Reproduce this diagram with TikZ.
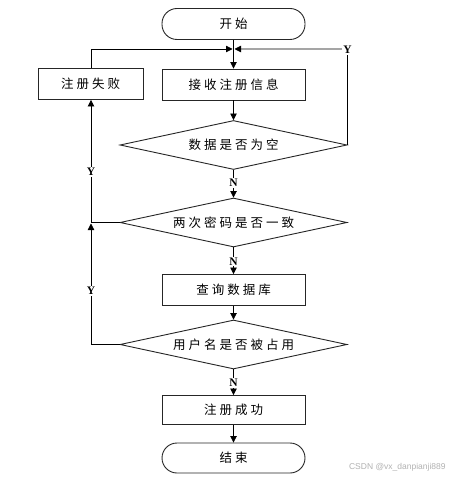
\documentclass[tikz,border=0pt]{standalone}
\usepackage{fontspec}
\setmainfont{Liberation Serif}
\newfontfamily\cjk[LetterSpace=24]{Noto Sans CJK SC}
\newfontfamily\wmfont{Liberation Sans}
\usetikzlibrary{shapes.geometric,arrows.meta}
\begin{document}
\begin{tikzpicture}[x=1pt,y=-1pt,
  line width=0.8pt,
  base/.style={draw=black!85,line width=0.9pt,inner sep=0pt,font=\cjk\fontsize{12.5}{14}\selectfont},
  term/.style={base,rectangle,rounded corners=15pt,minimum width=143pt,minimum height=31pt},
  proc/.style={base,rectangle,minimum width=143pt,minimum height=31pt},
  dec/.style={base,diamond,aspect=4.63,minimum width=227pt,minimum height=49pt},
  arr/.style={-{Triangle[length=6.5pt,width=6.5pt]}},
  lab/.style={fill=white,inner sep=1pt,font=\fontsize{11.5}{12}\selectfont\bfseries}]
\useasboundingbox (0,0) rectangle (448,478);
\fill[white] (0,0) rectangle (448,478);
\node[term] (start) at (233.5,24) {开始};
\node[proc] (recv) at (233.5,84.5) {接收注册信息};
\node[proc,minimum width=105pt] (fail) at (90.5,84) {注册失败};
\node[dec] (d1) at (233.5,145) {数据是否为空};
\node[dec] (d2) at (233.5,222.5) {两次密码是否一致};
\node[proc] (query) at (233.5,290) {查询数据库};
\node[dec] (d3) at (233.5,344.5) {用户名是否被占用};
\node[proc,minimum height=29pt] (ok) at (233.5,410) {注册成功};
\node[term,minimum height=30pt] (end) at (233.5,458) {结束};
\coordinate (mL) at (232.5,49);
\coordinate (mR) at (234.5,49);
\coordinate (cR) at (347.5,49);
\coordinate (cL) at (91,49);
\coordinate (j2) at (91,222.5);
\coordinate (j3) at (91,344.5);
% main flow
\draw[arr] (start) -- (recv);
\draw[arr] (recv) -- (d1);
\draw[arr] (d1) -- (d2);
\draw[arr] (d2) -- (query);
\draw[arr] (query) -- (d3);
\draw[arr] (d3) -- (ok);
\draw[arr] (ok) -- (end);
% loops
\draw[arr] (d1.east) -- (cR) -- (mR);
\draw[arr] (fail.north -| cL) -- (cL) -- (mL);
\draw (d2.west) -- (j2);
\draw[arr] (d3.west) -- (j3) -- ([yshift=-1pt]j2);
\draw[arr] (j2) -- (fail.south -| j2);
% labels
\node[lab] (yR) at (347.5,50) {Y};
\node[lab] (y1) at (91,172) {Y};
\node[lab] (y2) at (91,291) {Y};
\node[lab] (n1) at (233.5,183) {N};
\node[lab] (n2) at (233.5,261.5) {N};
\node[lab] (n3) at (233.5,383) {N};
\node[text=black!30,font=\wmfont\fontsize{8.5}{10}\selectfont,anchor=east,inner sep=0pt] (wm) at (446,467) {CSDN @vx\_danpianji889};
\end{tikzpicture}
\end{document}
